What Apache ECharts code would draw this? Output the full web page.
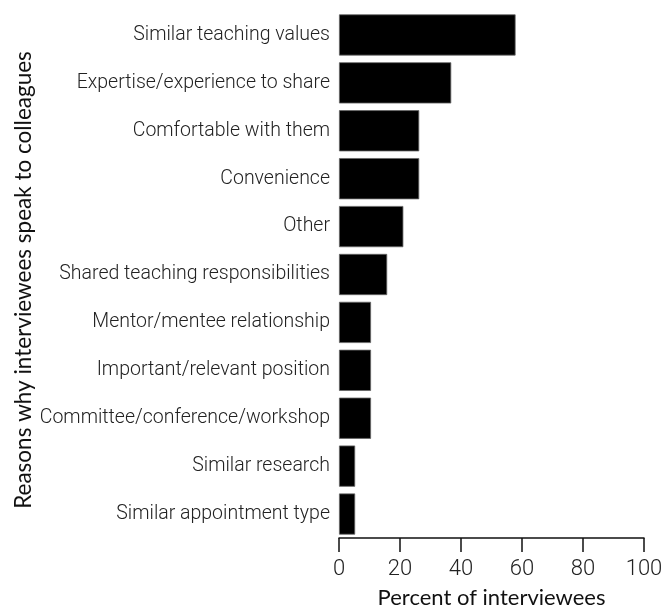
<!DOCTYPE html>
<html>
<head>
<meta charset="utf-8">
<script src="https://cdn.jsdelivr.net/npm/echarts@6/dist/echarts.min.js"></script>
<style>html,body{margin:0;padding:0;background:#fff}#c{width:665px;height:608px}</style>
</head>
<body>
<div id="c"></div>
<script>
const categories = [
  "Similar teaching values",
  "Expertise/experience to share",
  "Comfortable with them",
  "Convenience",
  "Other",
  "Shared teaching responsibilities",
  "Mentor/mentee relationship",
  "Important/relevant position",
  "Committee/conference/workshop",
  "Similar research",
  "Similar appointment type"
];
const percentValues = [57.9, 36.8, 26.3, 26.3, 21.1, 15.8, 10.5, 10.5, 10.5, 5.3, 5.3];
const xTicks = [0, 20, 40, 60, 80, 100];
const xAxisTitle = "Percent of interviewees";
const yAxisTitle = "Reasons why interviewees speak to colleagues";

const chart = echarts.init(document.getElementById('c'), null, {renderer: 'canvas'});
chart.setOption({
  animation: false,
  grid: {left: 339, right: 21, top: 11, bottom: 70, containLabel: false, outerBoundsMode: 'none'},
  xAxis: {
    type: 'value', min: xTicks[0], max: xTicks[xTicks.length - 1], interval: 20,
    name: xAxisTitle, nameLocation: 'middle', nameGap: 49, nameMoveOverlap: false,
    nameTextStyle: {fontFamily: 'Lato', fontSize: 22, color: '#111'},
    axisLine: {show: true, lineStyle: {color: '#111', width: 1.5}},
    axisTick: {show: true, length: 14, lineStyle: {color: '#111', width: 1.5}},
    axisLabel: {fontFamily: 'Roboto', fontWeight: 300, fontSize: 22, color: '#222', margin: 20},
    splitLine: {show: false}
  },
  yAxis: {
    type: 'category', data: categories, inverse: true,
    name: yAxisTitle, nameLocation: 'middle', nameGap: 304, nameRotate: 90, nameMoveOverlap: false,
    nameTextStyle: {fontFamily: 'Lato', fontSize: 22.5, color: '#111', padding: [0, 11, 0, 0]},
    axisLine: {show: false}, axisTick: {show: false},
    axisLabel: {fontFamily: 'Roboto', fontWeight: 300, fontSize: 19.5, color: '#222', margin: 9}
  },
  series: [{
    type: 'bar', data: percentValues, barCategoryGap: '14%',
    itemStyle: {color: '#000', borderColor: '#666', borderWidth: 0.8}
  }]
});
</script>
</body>
</html>
